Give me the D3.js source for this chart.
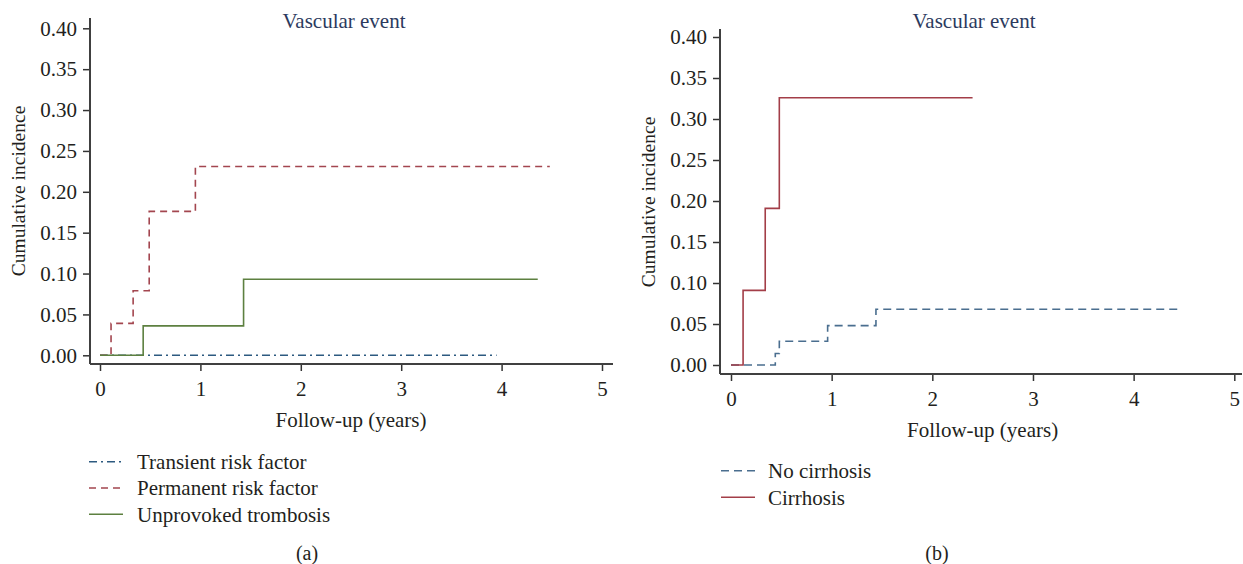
<!DOCTYPE html>
<html>
<head>
<meta charset="utf-8">
<script src="https://cdn.jsdelivr.net/npm/d3@7"></script>
<style>
  body { margin: 0; background: #ffffff; }
  text { font-family: "Liberation Serif", "DejaVu Serif", serif; fill: #231f20; }
</style>
</head>
<body>
<div id="chart"></div>
<script>
// panel (a)
var transientTime = [0, 3.95];
var transientInc = [0, 0];
var permanentTime = [0, 0.11, 0.33, 0.49, 0.95, 4.48];
var permanentInc = [0, 0.039, 0.079, 0.176, 0.231, 0.231];
var unprovokedTime = [0, 0.43, 1.43, 4.36];
var unprovokedInc = [0, 0.036, 0.093, 0.093];

// panel (b)
var noCirrTime = [0, 0.44, 0.48, 0.96, 1.44, 4.47];
var noCirrInc = [0, 0.014, 0.029, 0.048, 0.068, 0.068];
var cirrTime = [0, 0.12, 0.34, 0.48, 2.40];
var cirrInc = [0, 0.091, 0.191, 0.326, 0.326];

var yTicks = [0, 0.05, 0.10, 0.15, 0.20, 0.25, 0.30, 0.35, 0.40];
var xTicks = [0, 1, 2, 3, 4, 5];

const width = 1243;
const height = 564;

let svg = d3.select('#chart')
    .append('svg')
        .attr('width', width)
        .attr('height', height);

function toPoints(times, values){
    return times.map((t, i) => ({x: t, y: values[i]}));
}

function buildPanel(p){
    const xScale = d3.scaleLinear()
        .domain([0, 5])
        .range([p.x0, p.x5]);

    const yScale = d3.scaleLinear()
        .domain([0, 0.4])
        .range([p.y0, p.y40]);

    let g = svg.append('g');

    // title
    g.append('text')
        .attr('x', p.titleX)
        .attr('y', 28)
        .attr('text-anchor', 'middle')
        .style('font-size', '21px')
        .style('fill', '#2c3a5e')
        .text('Vascular event');

    // y-axis
    let yAxis = g.append('g')
        .attr('transform', `translate(${p.axisX}, 0)`)
        .call(d3.axisLeft(yScale)
            .tickValues(yTicks)
            .tickSize(7)
            .tickPadding(6)
            .tickFormat(d3.format('.2f')));
    yAxis.select('.domain').remove();

    // x-axis
    let xAxis = g.append('g')
        .attr('transform', `translate(0, ${p.axisY})`)
        .call(d3.axisBottom(xScale)
            .tickValues(xTicks)
            .tickSize(7)
            .tickPadding(10)
            .tickFormat(d3.format('d')));
    xAxis.select('.domain').remove();

    g.selectAll('.tick line')
        .attr('stroke', '#333')
        .attr('stroke-width', 1.5);
    g.selectAll('.tick text')
        .style('font-size', '21px')
        .style('font-family', '"Liberation Serif", serif')
        .attr('fill', '#231f20');

    // axis lines
    g.append('line')
        .attr('x1', p.axisX).attr('x2', p.axisX)
        .attr('y1', p.axisTop).attr('y2', p.axisY)
        .attr('stroke', '#404040')
        .attr('stroke-width', 2);
    g.append('line')
        .attr('x1', p.axisX).attr('x2', p.axisRight)
        .attr('y1', p.axisY).attr('y2', p.axisY)
        .attr('stroke', '#404040')
        .attr('stroke-width', 2);

    // axis labels
    g.append('text')
        .attr('x', (p.x0 + p.x5) / 2)
        .attr('y', p.axisY + 63)
        .attr('text-anchor', 'middle')
        .style('font-size', '21px')
        .text('Follow-up (years)');

    g.append('text')
        .attr('transform', `translate(${p.yLabelX}, ${p.yLabelY}) rotate(-90)`)
        .attr('text-anchor', 'middle')
        .style('font-size', '19.5px')
        .text('Cumulative incidence');

    // step curves
    const line = d3.line()
        .curve(d3.curveStepAfter)
        .x((d) => xScale(d.x))
        .y((d) => yScale(d.y));

    p.series.forEach(function(s){
        g.append('path')
            .datum(toPoints(s.times, s.values))
            .attr('fill', 'none')
            .attr('stroke', s.color)
            .attr('stroke-width', 1.6)
            .attr('stroke-dasharray', s.dash)
            .attr('d', line);
    });

    // legend
    p.series.forEach(function(s, i){
        let ly = p.legendY + i * p.legendStep;
        g.append('line')
            .attr('x1', p.legendX).attr('x2', p.legendX + 34)
            .attr('y1', ly).attr('y2', ly)
            .attr('stroke', s.color)
            .attr('stroke-width', 1.6)
            .attr('stroke-dasharray', s.dash);
        g.append('text')
            .attr('x', p.legendX + p.legendGap)
            .attr('y', ly)
            .attr('dy', '0.35em')
            .style('font-size', '21px')
            .text(s.name);
    });

    // caption
    g.append('text')
        .attr('x', p.captionX)
        .attr('y', 553)
        .attr('dy', '0.35em')
        .attr('text-anchor', 'middle')
        .style('font-size', '20px')
        .text(p.caption);
}

buildPanel({
    x0: 100, x5: 602, y0: 355.3, y40: 28.3,
    axisX: 90, axisY: 364, axisTop: 18, axisRight: 613,
    titleX: 344, yLabelX: 25, yLabelY: 191,
    legendX: 89, legendGap: 48, legendY: 461.7, legendStep: 26.3,
    captionX: 307, caption: '(a)',
    series: [
        {name: 'Transient risk factor', times: transientTime, values: transientInc, color: '#2d5a80', dash: '8,4,2,4'},
        {name: 'Permanent risk factor', times: permanentTime, values: permanentInc, color: '#a3464f', dash: '7,5'},
        {name: 'Unprovoked trombosis', times: unprovokedTime, values: unprovokedInc, color: '#5d8040', dash: null}
    ]
});

buildPanel({
    x0: 731, x5: 1234.3, y0: 365, y40: 37,
    axisX: 720, axisY: 374, axisTop: 29, axisRight: 1242,
    titleX: 974, yLabelX: 655, yLabelY: 202,
    legendX: 721, legendGap: 47, legendY: 470.7, legendStep: 26.6,
    captionX: 937, caption: '(b)',
    series: [
        {name: 'No cirrhosis', times: noCirrTime, values: noCirrInc, color: '#4a6e8f', dash: '8,5'},
        {name: 'Cirrhosis', times: cirrTime, values: cirrInc, color: '#a33e48', dash: null}
    ]
});
</script>
</body>
</html>
